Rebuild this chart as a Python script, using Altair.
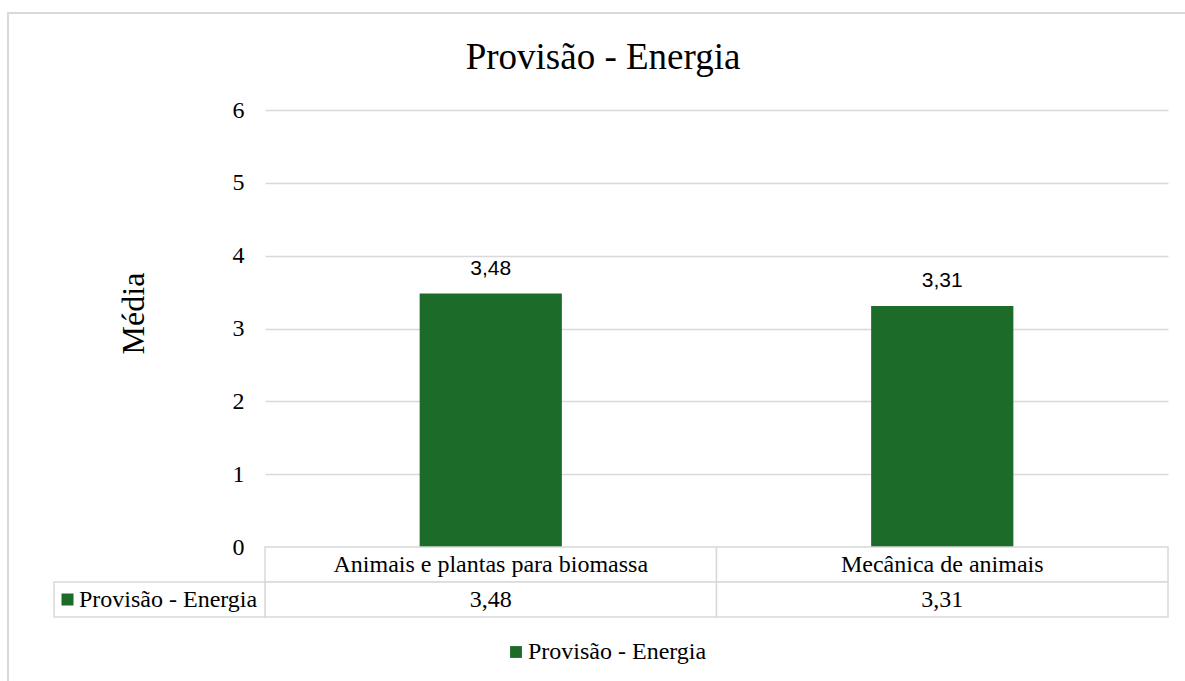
import altair as alt
import pandas as pd

# ---- data ----
categories = ["Animais e plantas para biomassa", "Mecânica de animais"]
values = [3.48, 3.31]
series_name = "Provisão - Energia"
chart_title = "Provisão - Energia"
y_title = "Média"
y_ticks = [0, 1, 2, 3, 4, 5, 6]
table_rows = ["categoria", "valor"]

# ---- style ----
GREEN = "#1D6B29"
GRID = "#D9D9D9"
SERIF = "Liberation Serif"
SANS = "Liberation Sans"
W, H = 903, 437
ROW_H = 35

df = pd.DataFrame({
    "categoria": categories,
    "media": values,
    "serie": [series_name] * len(categories),
})

table_df = pd.DataFrame({
    "categoria": categories * 2,
    "linha": [table_rows[0]] * len(categories) + [table_rows[1]] * len(categories),
    "texto": categories + [f"{v:.2f}".replace(".", ",") for v in values],
})

left_df = pd.DataFrame({"linha": [table_rows[1]], "serie": [series_name]})
frame_df = pd.DataFrame({"k": [0]})

x_scale = alt.Scale(domain=categories, paddingInner=0, paddingOuter=0)
color_scale = alt.Scale(domain=[series_name], range=[GREEN])
row_scale = alt.Scale(domain=table_rows, range=[H, H + 2 * ROW_H], paddingInner=0, paddingOuter=0)

legend = alt.Legend(
    orient="none", legendX=239, legendY=530, title=None, symbolType="square",
    symbolSize=140, symbolStrokeWidth=0, labelFont=SERIF, labelFontSize=24,
    labelColor="black", labelOffset=0, labelLimit=400, padding=0,
)

x_enc = alt.X("categoria:N", scale=x_scale, sort=categories, axis=None)

bars = alt.Chart(df).mark_bar(width=alt.RelativeBandSize(0.315)).encode(
    x=x_enc,
    y=alt.Y(
        "media:Q",
        scale=alt.Scale(domain=[0, 6], nice=False),
        axis=alt.Axis(
            values=y_ticks, format="d", title=y_title, grid=True, gridColor=GRID,
            gridWidth=1.3, domain=False, ticks=False, labelFont=SERIF, labelFontSize=24,
            labelColor="black", labelPadding=21, titleFont=SERIF, titleFontSize=32,
            titleFontWeight="normal", titleColor="black", titleX=-132, titleY=203,
            titleBaseline="middle",
        ),
    ),
    color=alt.Color("serie:N", scale=color_scale, legend=legend),
)

labels = alt.Chart(df).transform_calculate(
    rotulo="replace(format(datum.media, '.2f'), '.', ',')"
).mark_text(font=SANS, fontSize=21, color="black", baseline="alphabetic", dy=-19).encode(
    x=x_enc,
    y=alt.Y("media:Q", scale=alt.Scale(domain=[0, 6], nice=False)),
    text="rotulo:N",
)

top = alt.layer(bars, labels)

y_row = alt.Y("linha:N", scale=row_scale, sort=table_rows, axis=None)

cells = alt.Chart(table_df).mark_rect(fill="white", stroke=GRID, strokeWidth=1.5).encode(
    x=x_enc, y=y_row,
)
cell_text = alt.Chart(table_df).mark_text(font=SERIF, fontSize=24, color="black").encode(
    x=x_enc, y=y_row, text="texto:N",
)
left_cell = alt.Chart(left_df).mark_rect(fill="white", stroke=GRID, strokeWidth=1.5).encode(
    x=alt.value(-211), x2=alt.value(0), y=y_row,
)
left_square = alt.Chart(left_df).mark_square(size=144, opacity=1).encode(
    x=alt.value(-197.5), y=y_row,
    color=alt.Color("serie:N", scale=color_scale, legend=legend),
)
left_text = alt.Chart(left_df).mark_text(font=SERIF, fontSize=24, color="black", align="left").encode(
    x=alt.value(-186), y=y_row, text="serie:N",
)

table = alt.layer(cells, cell_text, left_cell, left_square, left_text)

frame = alt.Chart(frame_df).mark_rect(fill=None, stroke=GRID, strokeWidth=2).encode(
    x=alt.value(-257), x2=alt.value(960), y=alt.value(-97), y2=alt.value(620),
)

chart = alt.layer(frame, top, table).resolve_scale(y="independent").properties(
    width=W,
    height=H,
    autosize="none",
    padding={"left": 265, "top": 110, "right": 17, "bottom": 134},
    title=alt.TitleParams(
        text=chart_title, font=SERIF, fontSize=37, fontWeight="normal", color="black",
        anchor="middle", dx=-113.5, offset=0, dy=94, baseline="alphabetic",
    ),
).configure_view(stroke=None)

chart.save("out.html", embed_options={"renderer": "svg", "actions": False})
